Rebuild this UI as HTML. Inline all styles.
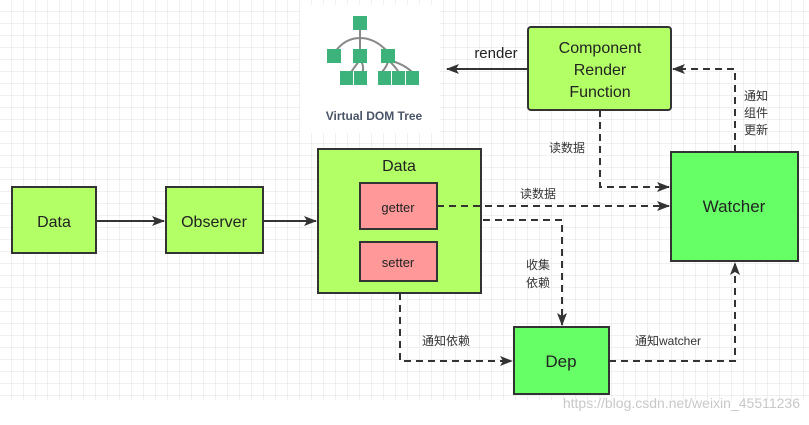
<!DOCTYPE html>
<html><head><meta charset="utf-8"><style>
body{margin:0;width:809px;height:420px;overflow:hidden;background:#fff;font-family:"Liberation Sans","Noto Sans CJK SC",sans-serif}
</style></head><body>
<svg width="809" height="420" xmlns="http://www.w3.org/2000/svg" font-family="Liberation Sans, Noto Sans CJK SC, sans-serif">
<defs>
<pattern id="g" width="12" height="12" patternUnits="userSpaceOnUse"><path d="M12 0V12H0" fill="none" stroke="#e2e2e2" stroke-width="1"/></pattern>
<marker id="a" markerWidth="13" markerHeight="10" refX="12" refY="5" orient="auto" markerUnits="userSpaceOnUse"><path d="M0 0L13 5L0 10L3 5Z" fill="#333"/></marker>
</defs>
<rect width="809" height="400" fill="url(#g)"/>
<rect x="300" y="5" width="140" height="128" fill="#fff"/>
<g stroke="#888" stroke-width="2" fill="none">
<path d="M360 25V38M360 38Q345 38 335 52M360 38V52M360 38Q375 38 388 52M360 60Q355 66 350 74M360 60Q365 66 362 74M388 60Q388 66 380 74M388 60Q395 66 400 74M388 60Q405 64 414 74"/>
</g>
<g fill="#3bb37a">
<rect x="353" y="16" width="14" height="14"/><rect x="327" y="49" width="14" height="14"/><rect x="353" y="49" width="14" height="14"/><rect x="381" y="49" width="14" height="14"/>
<rect x="340" y="71" width="13" height="14"/><rect x="354" y="71" width="13" height="14"/><rect x="378" y="71" width="13" height="14"/><rect x="392" y="71" width="13" height="14"/><rect x="406" y="71" width="13" height="14"/>
</g>
<text x="374" y="120" font-size="12" font-weight="bold" fill="#4a5568" text-anchor="middle">Virtual DOM Tree</text>
<g stroke="#333" stroke-width="2">
<rect x="12" y="187" width="84" height="66" fill="#b3ff66"/>
<rect x="166" y="187" width="97" height="66" fill="#b3ff66"/>
<rect x="318" y="149" width="163" height="144" fill="#b3ff66"/>
<rect x="360" y="183" width="77" height="46" fill="#ff9999"/>
<rect x="360" y="242" width="77" height="39" fill="#ff9999"/>
<rect x="528" y="27" width="143" height="83" rx="3" fill="#b3ff66"/>
<rect x="671" y="152" width="127" height="109" fill="#66ff66"/>
<rect x="514" y="327" width="95" height="67" fill="#66ff66"/>
</g>
<g font-size="16" fill="#222" text-anchor="middle">
<text x="54" y="227">Data</text>
<text x="214" y="227">Observer</text>
<text x="399" y="171">Data</text>
<text x="398" y="212" font-size="13">getter</text>
<text x="398" y="267" font-size="13">setter</text>
<text x="600" y="53">Component</text>
<text x="600" y="75">Render</text>
<text x="600" y="97">Function</text>
<text x="734" y="212" font-size="17">Watcher</text>
<text x="561" y="367" font-size="17">Dep</text>
<text x="496" y="58" font-size="15">render</text>
</g>
<g stroke="#333" stroke-width="2" fill="none">
<path d="M96 221H164" marker-end="url(#a)"/>
<path d="M263 221H316" marker-end="url(#a)"/>
<path d="M528 69H447" marker-end="url(#a)"/>
</g>
<g stroke="#333" stroke-width="2" fill="none" stroke-dasharray="7,5">
<path d="M735 152V69H673" marker-end="url(#a)"/>
<path d="M600 110V187H669" marker-end="url(#a)"/>
<path d="M437 206H669" marker-end="url(#a)"/>
<path d="M483 220H562V325" marker-end="url(#a)"/>
<path d="M400 293V361H512" marker-end="url(#a)"/>
<path d="M609 361H735V263" marker-end="url(#a)"/>
</g>
<g font-size="12" fill="#333">
<text x="744" y="100">通知</text><text x="744" y="117">组件</text><text x="744" y="134">更新</text>
<text x="549" y="152">读数据</text>
<text x="520" y="198">读数据</text>
<text x="526" y="269">收集</text><text x="526" y="287">依赖</text>
<text x="422" y="345">通知依赖</text>
<text x="635" y="345">通知watcher</text>
</g>
<text x="800" y="408" font-size="14" fill="#c8c8c8" text-anchor="end">https://blog.csdn.net/weixin_45511236</text>
</svg>
</body></html>
